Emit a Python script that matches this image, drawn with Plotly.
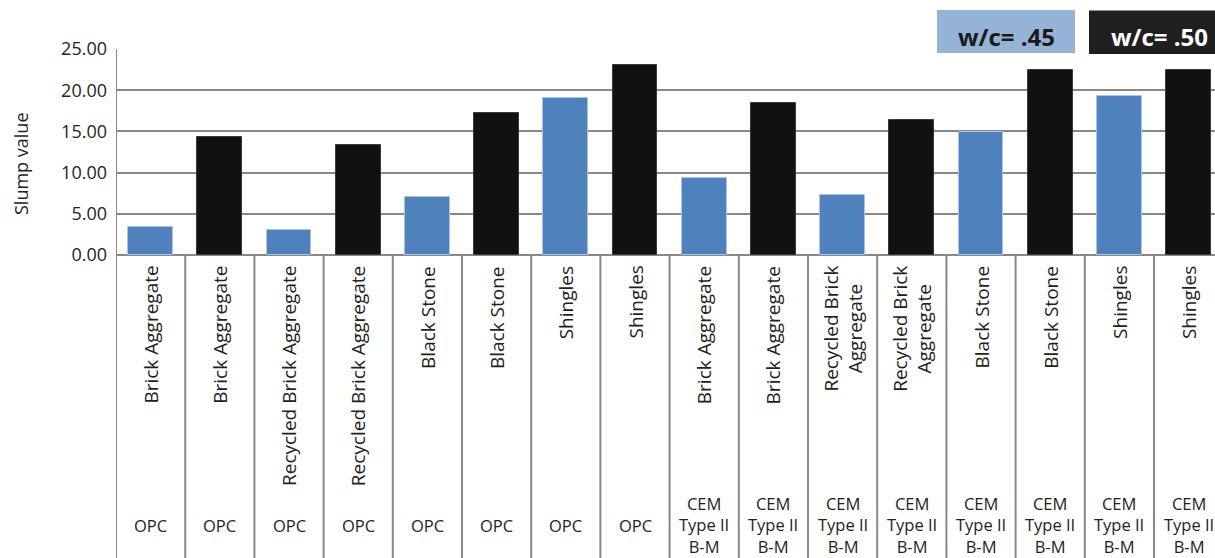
import plotly.graph_objects as go

# ---- data ----
materials = ["Brick Aggregate", "Brick Aggregate",
             "Recycled Brick Aggregate", "Recycled Brick Aggregate",
             "Black Stone", "Black Stone", "Shingles", "Shingles",
             "Brick Aggregate", "Brick Aggregate",
             "Recycled Brick<br>Aggregate", "Recycled Brick<br>Aggregate",
             "Black Stone", "Black Stone", "Shingles", "Shingles"]
cements = ["OPC"] * 8 + ["CEM<br>Type II<br>B-M"] * 8
wc_ratio = [".45", ".50"] * 8
slump = [3.4, 14.3, 3.0, 13.3, 7.1, 17.2, 19.0, 23.0,
         9.3, 18.4, 7.3, 16.4, 14.9, 22.5, 19.3, 22.5]
y_ticks = [0, 5, 10, 15, 20, 25]
legend_labels = ["w/c= .45", "w/c= .50"]

BLUE = "#4F81BD"
BLACK = "#111111"
GRID = "#888888"
FONT = "Open Sans"
TXT = "#231f20"

W, H = 1215, 558
ML, MT, MB = 116, 49, 303
plot_h = H - MT - MB
plot_w = W - ML

def py(p):  # pixel y -> paper y
    return (H - MB - p) / plot_h

def px(p):  # pixel x -> paper x
    return (p - ML) / plot_w

col_w = 69.2
x_max = -0.5 + plot_w / col_w

fig = go.Figure()
for wc, color, line in [(".45", BLUE, "#a9c4e6"), (".50", BLACK, "#3a3a3a")]:
    idx = [i for i, w in enumerate(wc_ratio) if w == wc]
    fig.add_trace(go.Bar(
        x=idx, y=[slump[i] for i in idx], width=0.645,
        marker=dict(color=color, line=dict(color=line, width=1)),
        name="w/c= " + wc, showlegend=False, hoverinfo="y"))

shapes = []
n = len(materials)
for k in range(n + 1):
    shapes.append(dict(type="line", xref="x", yref="paper",
                       x0=k - 0.5, x1=k - 0.5, y0=0 if k > 0 else 1,
                       y1=py(H + 2), line=dict(color=GRID, width=2),
                       layer="above"))

annotations = []
for i, (m, c) in enumerate(zip(materials, cements)):
    annotations.append(dict(x=i, y=py(264), xref="x", yref="paper",
                            text=m, textangle=-90, showarrow=False,
                            xanchor="center", yanchor="top",
                            font=dict(family=FONT, size=19, color=TXT)))
    annotations.append(dict(x=i, y=py(525), xref="x", yref="paper",
                            text=c, showarrow=False,
                            xanchor="center", yanchor="middle",
                            font=dict(family=FONT, size=16.5, color=TXT)))

annotations.append(dict(x=px(21), y=py(164), xref="paper", yref="paper",
                        text="Slump value", textangle=-90, showarrow=False,
                        xanchor="center", yanchor="middle",
                        font=dict(family=FONT, size=18, color=TXT)))

# custom legend
shapes.append(dict(type="rect", xref="paper", yref="paper",
                   x0=px(937), x1=px(1075), y0=py(53), y1=py(10),
                   fillcolor="#95B3D7", line=dict(width=0), layer="above"))
shapes.append(dict(type="rect", xref="paper", yref="paper",
                   x0=px(1089), x1=px(1230), y0=py(54), y1=py(10.5),
                   fillcolor="#1f1f1f", line=dict(width=0), layer="above"))
annotations.append(dict(x=px(1007), y=py(36), xref="paper", yref="paper",
                        text="<b>" + legend_labels[0] + "</b>", showarrow=False,
                        xanchor="center", yanchor="middle",
                        font=dict(family=FONT, size=24, color="#1a1a1a")))
annotations.append(dict(x=px(1159), y=py(36), xref="paper", yref="paper",
                        text="<b>" + legend_labels[1] + "</b>", showarrow=False,
                        xanchor="center", yanchor="middle",
                        font=dict(family=FONT, size=24, color="#ffffff")))

fig.update_layout(
    width=W, height=H, autosize=False,
    margin=dict(l=ML, r=0, t=MT, b=MB, pad=0),
    paper_bgcolor="white", plot_bgcolor="white",
    barmode="overlay", bargap=0,
    shapes=shapes, annotations=annotations,
    xaxis=dict(range=[-0.5, x_max], showticklabels=False, showgrid=False,
               zeroline=False, showline=False, ticks=""),
    yaxis=dict(range=[0, 25], tickvals=y_ticks, tickformat=".2f",
               showgrid=True, gridcolor=GRID, gridwidth=2,
               zeroline=True, zerolinecolor=GRID, zerolinewidth=2,
               showline=False, ticks="", ticklabelstandoff=8,
               tickfont=dict(family=FONT, size=18, color=TXT)),
)

fig.write_html("out.html")
